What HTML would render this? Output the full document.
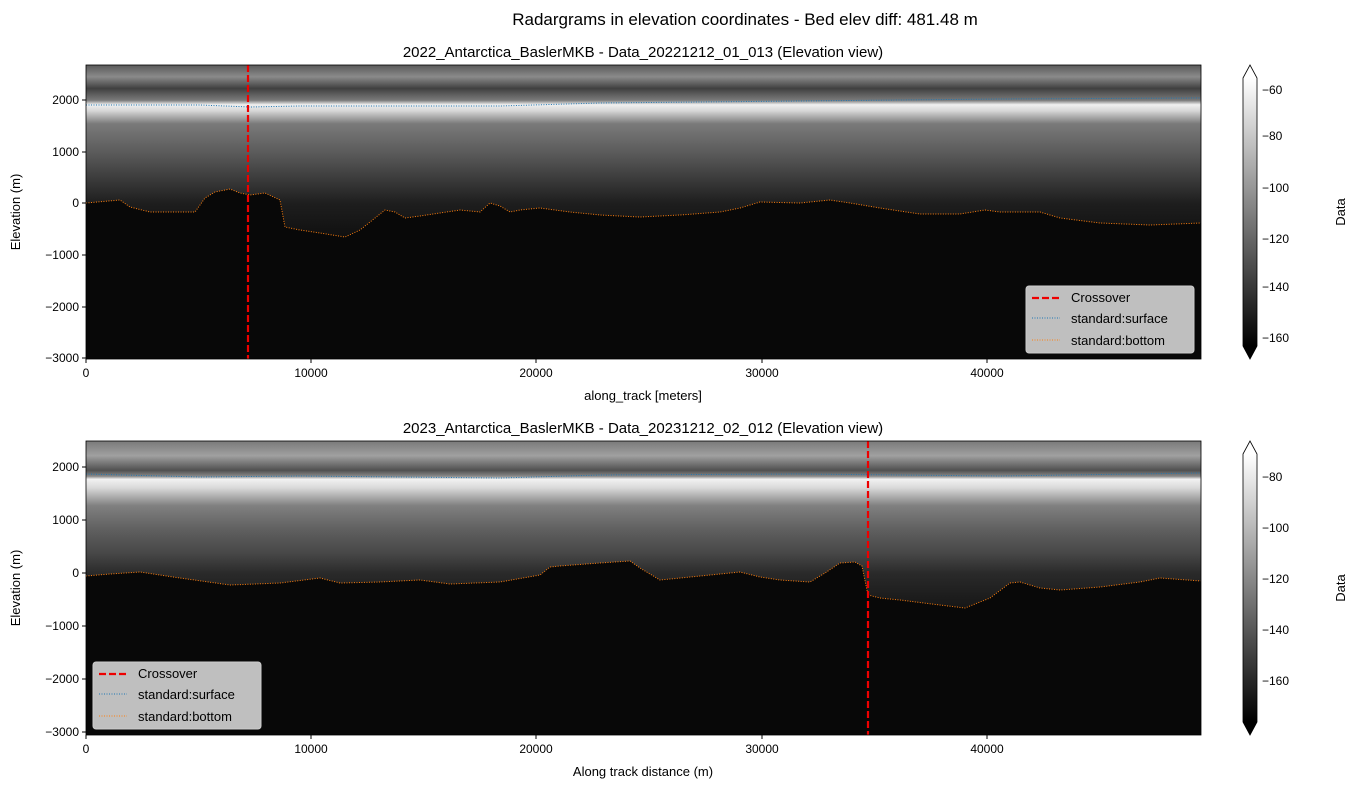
<!DOCTYPE html>
<html><head><meta charset="utf-8"><style>
body{margin:0;background:#fff;font-family:"Liberation Sans",sans-serif;}
svg text{font-family:"Liberation Sans",sans-serif;}
</style></head><body>
<svg width="1363" height="789" xmlns="http://www.w3.org/2000/svg">
<defs>
<linearGradient id="g1" x1="0" y1="0" x2="0" y2="1">
<stop offset="0" stop-color="#5a5a5a"/><stop offset="0.04" stop-color="#8a8a8a"/><stop offset="0.08" stop-color="#404040"/><stop offset="0.12" stop-color="#7a7a7a"/><stop offset="0.135" stop-color="#f0f0f0"/><stop offset="0.155" stop-color="#d8d8d8"/><stop offset="0.2" stop-color="#7a7a7a"/><stop offset="0.3" stop-color="#5a5a5a"/><stop offset="0.39" stop-color="#3a3a3a"/><stop offset="0.47" stop-color="#1e1e1e"/><stop offset="0.6" stop-color="#0e0e0e"/><stop offset="1" stop-color="#050505"/>
</linearGradient>
<linearGradient id="g2" x1="0" y1="0" x2="0" y2="1">
<stop offset="0" stop-color="#7a7a7a"/><stop offset="0.05" stop-color="#a0a0a0"/><stop offset="0.1" stop-color="#505050"/><stop offset="0.12" stop-color="#8a8a8a"/><stop offset="0.13" stop-color="#f2f2f2"/><stop offset="0.16" stop-color="#d8d8d8"/><stop offset="0.22" stop-color="#808080"/><stop offset="0.3" stop-color="#606060"/><stop offset="0.38" stop-color="#484848"/><stop offset="0.45" stop-color="#2a2a2a"/><stop offset="0.6" stop-color="#111"/><stop offset="1" stop-color="#050505"/>
</linearGradient>
<linearGradient id="cb" x1="0" y1="0" x2="0" y2="1"><stop offset="0" stop-color="#fff"/><stop offset="1" stop-color="#000"/></linearGradient>
</defs>
<text x="745" y="25" font-size="17" text-anchor="middle">Radargrams in elevation coordinates - Bed elev diff: 481.48 m</text>

<!-- TOP -->
<text x="643" y="57" font-size="15" text-anchor="middle">2022_Antarctica_BaslerMKB - Data_20221212_01_013 (Elevation view)</text>
<rect x="86" y="65" width="1115" height="294" fill="url(#g1)"/>
<polygon fill="#080808" points="86,203 120,200 130,207 150,212 195,212 205,198 215,192 230,189 240,193 250,195 265,193 280,200 285,227 300,230 320,233 345,237 360,230 375,218 385,210 395,212 405,218 420,216 440,213 460,210 480,212 490,203 500,206 510,212 520,210 540,208 570,212 600,215 640,217 680,215 720,212 740,208 760,202 800,203 830,200 850,203 880,208 920,214 960,214 985,210 1000,212 1040,212 1060,218 1100,223 1150,225 1201,223 1201,359 86,359"/>
<polyline fill="none" stroke="#ff7f0e" stroke-width="1" stroke-dasharray="1,1.5" points="86,203 120,200 130,207 150,212 195,212 205,198 215,192 230,189 240,193 250,195 265,193 280,200 285,227 300,230 320,233 345,237 360,230 375,218 385,210 395,212 405,218 420,216 440,213 460,210 480,212 490,203 500,206 510,212 520,210 540,208 570,212 600,215 640,217 680,215 720,212 740,208 760,202 800,203 830,200 850,203 880,208 920,214 960,214 985,210 1000,212 1040,212 1060,218 1100,223 1150,225 1201,223"/>
<polyline fill="none" stroke="#1f77b4" stroke-width="1" stroke-dasharray="1,1.5" points="86,105 200,105 250,107 300,106 500,106 600,103 800,101 1000,99 1201,98"/>
<line x1="248" y1="65" x2="248" y2="359" stroke="#e00" stroke-width="2.2" stroke-dasharray="7,3"/>
<rect x="86" y="65" width="1115" height="294" fill="none" stroke="#000" stroke-width="0.8"/>
<g font-size="12" text-anchor="end">
<text x="79" y="104">2000</text><text x="79" y="156">1000</text><text x="79" y="207">0</text><text x="79" y="259">−1000</text><text x="79" y="311">−2000</text><text x="79" y="362">−3000</text>
</g>
<g stroke="#000"><line x1="82" y1="100" x2="86" y2="100"/><line x1="82" y1="152" x2="86" y2="152"/><line x1="82" y1="203" x2="86" y2="203"/><line x1="82" y1="255" x2="86" y2="255"/><line x1="82" y1="307" x2="86" y2="307"/><line x1="82" y1="358" x2="86" y2="358"/>
<line x1="86" y1="359" x2="86" y2="363"/><line x1="311" y1="359" x2="311" y2="363"/><line x1="536" y1="359" x2="536" y2="363"/><line x1="762" y1="359" x2="762" y2="363"/><line x1="987" y1="359" x2="987" y2="363"/></g>
<g font-size="12" text-anchor="middle"><text x="86" y="377">0</text><text x="311" y="377">10000</text><text x="536" y="377">20000</text><text x="762" y="377">30000</text><text x="987" y="377">40000</text></g>
<text x="643" y="400" font-size="13" text-anchor="middle">along_track [meters]</text>
<text x="20" y="212" font-size="13" text-anchor="middle" transform="rotate(-90 20 212)">Elevation (m)</text>
<rect x="1026" y="286" width="168" height="67" fill="#eee" fill-opacity="0.8" stroke="#ccc" rx="3"/>
<line x1="1032" y1="298" x2="1060" y2="298" stroke="#e00" stroke-width="2.2" stroke-dasharray="7,3"/>
<line x1="1032" y1="318" x2="1060" y2="318" stroke="#1f77b4" stroke-dasharray="1,1.5"/>
<line x1="1032" y1="340" x2="1060" y2="340" stroke="#ff7f0e" stroke-dasharray="1,1.5"/>
<g font-size="13"><text x="1071" y="302">Crossover</text><text x="1071" y="323">standard:surface</text><text x="1071" y="345">standard:bottom</text></g>
<rect x="1243" y="78" width="14" height="268" fill="url(#cb)"/>
<polygon points="1243,78 1250,65 1257,78" fill="#fff"/>
<polygon points="1243,346 1250,359 1257,346" fill="#000"/>
<polygon points="1243,78 1250,65 1257,78 1257,346 1250,359 1243,346" fill="none" stroke="#000" stroke-width="0.8"/>
<g font-size="12"><text x="1262" y="94">−60</text><text x="1262" y="140">−80</text><text x="1262" y="192">−100</text><text x="1262" y="243">−120</text><text x="1262" y="291">−140</text><text x="1262" y="342">−160</text></g>
<text x="1345" y="212" font-size="13" text-anchor="middle" transform="rotate(-90 1345 212)">Data</text>

<!-- BOTTOM -->
<text x="643" y="433" font-size="15" text-anchor="middle">2023_Antarctica_BaslerMKB - Data_20231212_02_012 (Elevation view)</text>
<rect x="86" y="441" width="1115" height="294" fill="url(#g2)"/>
<polygon fill="#080808" points="86,576 110,574 140,572 180,578 230,585 280,583 320,578 340,583 380,582 420,580 450,584 500,582 540,575 550,567 560,566 600,563 630,561 640,568 660,580 700,576 740,572 760,577 780,580 810,582 825,573 840,563 855,562 862,566 868,595 880,598 900,600 940,605 965,608 990,598 1010,583 1020,582 1040,588 1060,590 1100,587 1140,582 1160,578 1201,581 1201,735 86,735"/>
<polyline fill="none" stroke="#ff7f0e" stroke-width="1" stroke-dasharray="1,1.5" points="86,576 110,574 140,572 180,578 230,585 280,583 320,578 340,583 380,582 420,580 450,584 500,582 540,575 550,567 560,566 600,563 630,561 640,568 660,580 700,576 740,572 760,577 780,580 810,582 825,573 840,563 855,562 862,566 868,595 880,598 900,600 940,605 965,608 990,598 1010,583 1020,582 1040,588 1060,590 1100,587 1140,582 1160,578 1201,581"/>
<polyline fill="none" stroke="#1f77b4" stroke-width="1" stroke-dasharray="1,1.5" points="86,474 200,477 300,476 500,478 600,475 800,474 1000,476 1201,473"/>
<line x1="868" y1="441" x2="868" y2="735" stroke="#e00" stroke-width="2.2" stroke-dasharray="7,3"/>
<rect x="86" y="441" width="1115" height="294" fill="none" stroke="#000" stroke-width="0.8"/>
<g font-size="12" text-anchor="end">
<text x="79" y="471">2000</text><text x="79" y="524">1000</text><text x="79" y="577">0</text><text x="79" y="630">−1000</text><text x="79" y="683">−2000</text><text x="79" y="736">−3000</text>
</g>
<g stroke="#000"><line x1="82" y1="467" x2="86" y2="467"/><line x1="82" y1="520" x2="86" y2="520"/><line x1="82" y1="573" x2="86" y2="573"/><line x1="82" y1="626" x2="86" y2="626"/><line x1="82" y1="679" x2="86" y2="679"/><line x1="82" y1="732" x2="86" y2="732"/>
<line x1="86" y1="735" x2="86" y2="739"/><line x1="311" y1="735" x2="311" y2="739"/><line x1="536" y1="735" x2="536" y2="739"/><line x1="762" y1="735" x2="762" y2="739"/><line x1="987" y1="735" x2="987" y2="739"/></g>
<g font-size="12" text-anchor="middle"><text x="86" y="753">0</text><text x="311" y="753">10000</text><text x="536" y="753">20000</text><text x="762" y="753">30000</text><text x="987" y="753">40000</text></g>
<text x="643" y="776" font-size="13" text-anchor="middle">Along track distance (m)</text>
<text x="20" y="588" font-size="13" text-anchor="middle" transform="rotate(-90 20 588)">Elevation (m)</text>
<rect x="93" y="662" width="168" height="67" fill="#eee" fill-opacity="0.8" stroke="#ccc" rx="3"/>
<line x1="99" y1="674" x2="127" y2="674" stroke="#e00" stroke-width="2.2" stroke-dasharray="7,3"/>
<line x1="99" y1="694" x2="127" y2="694" stroke="#1f77b4" stroke-dasharray="1,1.5"/>
<line x1="99" y1="716" x2="127" y2="716" stroke="#ff7f0e" stroke-dasharray="1,1.5"/>
<g font-size="13"><text x="138" y="678">Crossover</text><text x="138" y="699">standard:surface</text><text x="138" y="721">standard:bottom</text></g>
<rect x="1243" y="454" width="14" height="268" fill="url(#cb)"/>
<polygon points="1243,454 1250,441 1257,454" fill="#fff"/>
<polygon points="1243,722 1250,735 1257,722" fill="#000"/>
<polygon points="1243,454 1250,441 1257,454 1257,722 1250,735 1243,722" fill="none" stroke="#000" stroke-width="0.8"/>
<g font-size="12"><text x="1262" y="481">−80</text><text x="1262" y="532">−100</text><text x="1262" y="583">−120</text><text x="1262" y="634">−140</text><text x="1262" y="685">−160</text></g>
<text x="1345" y="588" font-size="13" text-anchor="middle" transform="rotate(-90 1345 588)">Data</text>
</svg>
</body></html>
